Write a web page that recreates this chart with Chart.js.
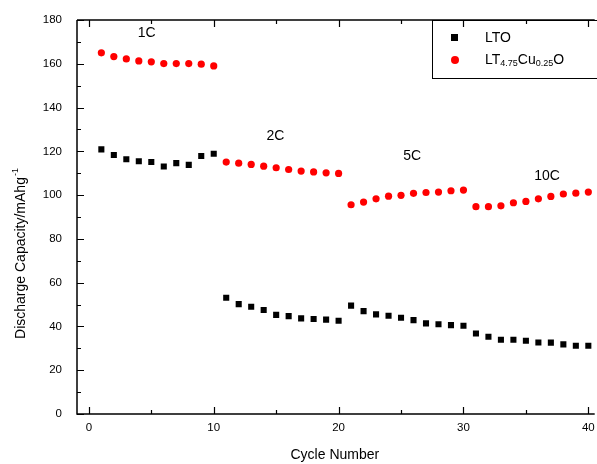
<!DOCTYPE html>
<html>
<head>
<meta charset="utf-8">
<script src="https://cdn.jsdelivr.net/npm/chart.js@4/dist/chart.umd.min.js"></script>
<style>
  html, body { margin: 0; padding: 0; background: #fff; }
  #box { width: 597px; height: 464px; }
</style>
</head>
<body>
<div id="box"><canvas id="capChart" width="597" height="464"></canvas></div>
<script>
// cycle numbers 1..40
const cycles = [1,2,3,4,5,6,7,8,9,10,11,12,13,14,15,16,17,18,19,20,
                21,22,23,24,25,26,27,28,29,30,31,32,33,34,35,36,37,38,39,40];

// LTO discharge capacity (mAh/g)
const ltoValues = [120.9,118.3,116.4,115.5,115.1,113.1,114.6,113.8,117.9,118.9,
                   53.1,50.2,49.0,47.5,45.3,44.7,43.7,43.4,43.1,42.6,
                   49.5,47.0,45.5,44.9,44.0,42.9,41.4,41.0,40.6,40.3,
                   36.8,35.3,33.9,33.9,33.5,32.7,32.6,31.8,31.2,31.2];

// LT4.75Cu0.25O discharge capacity (mAh/g)
const cuValues = [165.0,163.3,162.2,161.3,160.9,160.1,160.1,160.1,159.8,159.0,
                  115.1,114.6,114.0,113.2,112.5,111.7,111.0,110.6,110.2,109.9,
                  95.6,96.8,98.3,99.5,99.9,100.8,101.2,101.4,102.0,102.3,
                  94.7,94.7,95.1,96.5,97.1,98.3,99.4,100.5,100.9,101.4];

const xTicks = [0, 10, 20, 30, 40];
const xMinorTicks = [5, 15, 25, 35];
const yTicks = [0, 20, 40, 60, 80, 100, 120, 140, 160, 180];
const yMinorTicks = [10, 30, 50, 70, 90, 110, 130, 150, 170];

// rate annotations (data coords)
const rateLabels = ['1C', '2C', '5C', '10C'];
const rateX = [4.63, 14.94, 25.9, 36.7];
const rateY = [174, 126.9, 117.9, 108.8];

const FONT = "'Liberation Sans', Arial, sans-serif";

const framePlugin = {
    id: 'frame',
    afterDraw(chart) {
        const ctx = chart.ctx;
        const {left, right, top, bottom} = chart.chartArea;
        const xs = chart.scales.x, ys = chart.scales.y;

        ctx.save();
        ctx.strokeStyle = '#000';
        ctx.lineWidth = 1.5;
        ctx.beginPath();
        ctx.moveTo(left, top); ctx.lineTo(left, bottom); ctx.lineTo(right + 2, bottom);
        ctx.moveTo(left, top); ctx.lineTo(right + 2, top);
        ctx.stroke();

        ctx.lineWidth = 1.2;
        ctx.beginPath();
        xTicks.forEach(v => {
            const px = Math.round(xs.getPixelForValue(v)) + 0.5;
            ctx.moveTo(px, bottom); ctx.lineTo(px, bottom - 7);
            ctx.moveTo(px, top); ctx.lineTo(px, top + 7);
        });
        xMinorTicks.forEach(v => {
            const px = Math.round(xs.getPixelForValue(v)) + 0.5;
            ctx.moveTo(px, bottom); ctx.lineTo(px, bottom - 4);
            ctx.moveTo(px, top); ctx.lineTo(px, top + 4);
        });
        yTicks.forEach(v => {
            const py = Math.round(ys.getPixelForValue(v)) + 0.5;
            ctx.moveTo(left, py); ctx.lineTo(left + 7, py);
        });
        yMinorTicks.forEach(v => {
            const py = Math.round(ys.getPixelForValue(v)) + 0.5;
            ctx.moveTo(left, py); ctx.lineTo(left + 4, py);
        });
        ctx.stroke();

        // rate labels
        ctx.fillStyle = '#000';
        ctx.font = '14px ' + FONT;
        ctx.textAlign = 'center';
        ctx.textBaseline = 'middle';
        rateLabels.forEach((t, i) => {
            ctx.fillText(t, xs.getPixelForValue(rateX[i]), ys.getPixelForValue(rateY[i]));
        });

        // y title with superscript
        ctx.translate(21, 254);
        ctx.rotate(-Math.PI / 2);
        ctx.textAlign = 'left';
        ctx.textBaseline = 'middle';
        ctx.font = '14px ' + FONT;
        const main = 'Discharge Capacity/mAhg';
        const w1 = ctx.measureText(main).width;
        ctx.font = '9px ' + FONT;
        const w2 = ctx.measureText('-1').width;
        const x0 = -(w1 + w2) / 2;
        ctx.font = '14px ' + FONT;
        ctx.fillText(main, x0, 0);
        ctx.font = '9px ' + FONT;
        ctx.fillText('-1', x0 + w1 + 1, -5);
        ctx.restore();

        // legend
        ctx.save();
        ctx.strokeStyle = '#000';
        ctx.lineWidth = 1;
        ctx.strokeRect(432.5, 20.5, 170, 58);
        ctx.fillStyle = '#000';
        ctx.fillRect(451, 34, 7, 7);
        ctx.fillStyle = '#f00';
        ctx.beginPath();
        ctx.arc(455, 60, 4, 0, Math.PI * 2);
        ctx.fill();
        ctx.fillStyle = '#000';
        ctx.textBaseline = 'middle';
        ctx.textAlign = 'left';
        ctx.font = '14px ' + FONT;
        ctx.fillText('LTO', 485, 38);
        let x = 485;
        const parts = [['LT', 0], ['4.75', 1], ['Cu', 0], ['0.25', 1], ['O', 0]];
        parts.forEach(([t, sub]) => {
            ctx.font = (sub ? '9px ' : '14px ') + FONT;
            ctx.fillText(t, x, sub ? 64 : 60);
            x += ctx.measureText(t).width;
        });
        ctx.restore();
    }
};

const ctx = document.getElementById('capChart').getContext('2d');
new Chart(ctx, {
    type: 'scatter',
    data: {
        datasets: [
            {
                label: 'LTO',
                data: cycles.map((c, i) => ({x: c, y: ltoValues[i]})),
                pointStyle: 'rect',
                pointRadius: 4.3,
                pointHoverRadius: 4.3,
                backgroundColor: '#000',
                borderColor: '#000',
                borderWidth: 0
            },
            {
                label: 'LT4.75Cu0.25O',
                data: cycles.map((c, i) => ({x: c, y: cuValues[i]})),
                pointStyle: 'circle',
                pointRadius: 3.6,
                pointHoverRadius: 3.6,
                backgroundColor: '#f00',
                borderColor: '#f00',
                borderWidth: 0
            }
        ]
    },
    options: {
        responsive: false,
        animation: false,
        devicePixelRatio: 1,
        layout: { padding: { top: 20, left: 0, right: 0, bottom: 0 } },
        plugins: {
            legend: { display: false },
            tooltip: { enabled: false }
        },
        scales: {
            x: {
                type: 'linear',
                min: -0.95,
                max: 40.35,
                grid: { display: false, drawTicks: false },
                border: { display: false },
                ticks: {
                    color: '#000',
                    padding: 7,
                    maxRotation: 0,
                    font: { family: FONT, size: 11.5 }
                },
                afterBuildTicks: s => { s.ticks = xTicks.map(v => ({value: v})); },
                afterFit: s => { s.height = 50; s.paddingLeft = 0; s.paddingRight = 0; },
                title: {
                    display: true,
                    text: 'Cycle Number',
                    color: '#000',
                    font: { family: FONT, size: 14 },
                    padding: { top: 0, bottom: 0 }
                }
            },
            y: {
                type: 'linear',
                min: 0,
                max: 180,
                grid: { display: false, drawTicks: false },
                border: { display: false },
                ticks: {
                    color: '#000',
                    padding: 15,
                    font: { family: FONT, size: 11.5 }
                },
                afterBuildTicks: s => { s.ticks = yTicks.map(v => ({value: v})); },
                afterFit: s => { s.width = 77; s.paddingTop = 0; s.paddingBottom = 0; }
            }
        }
    },
    plugins: [framePlugin]
});
</script>
</body>
</html>
